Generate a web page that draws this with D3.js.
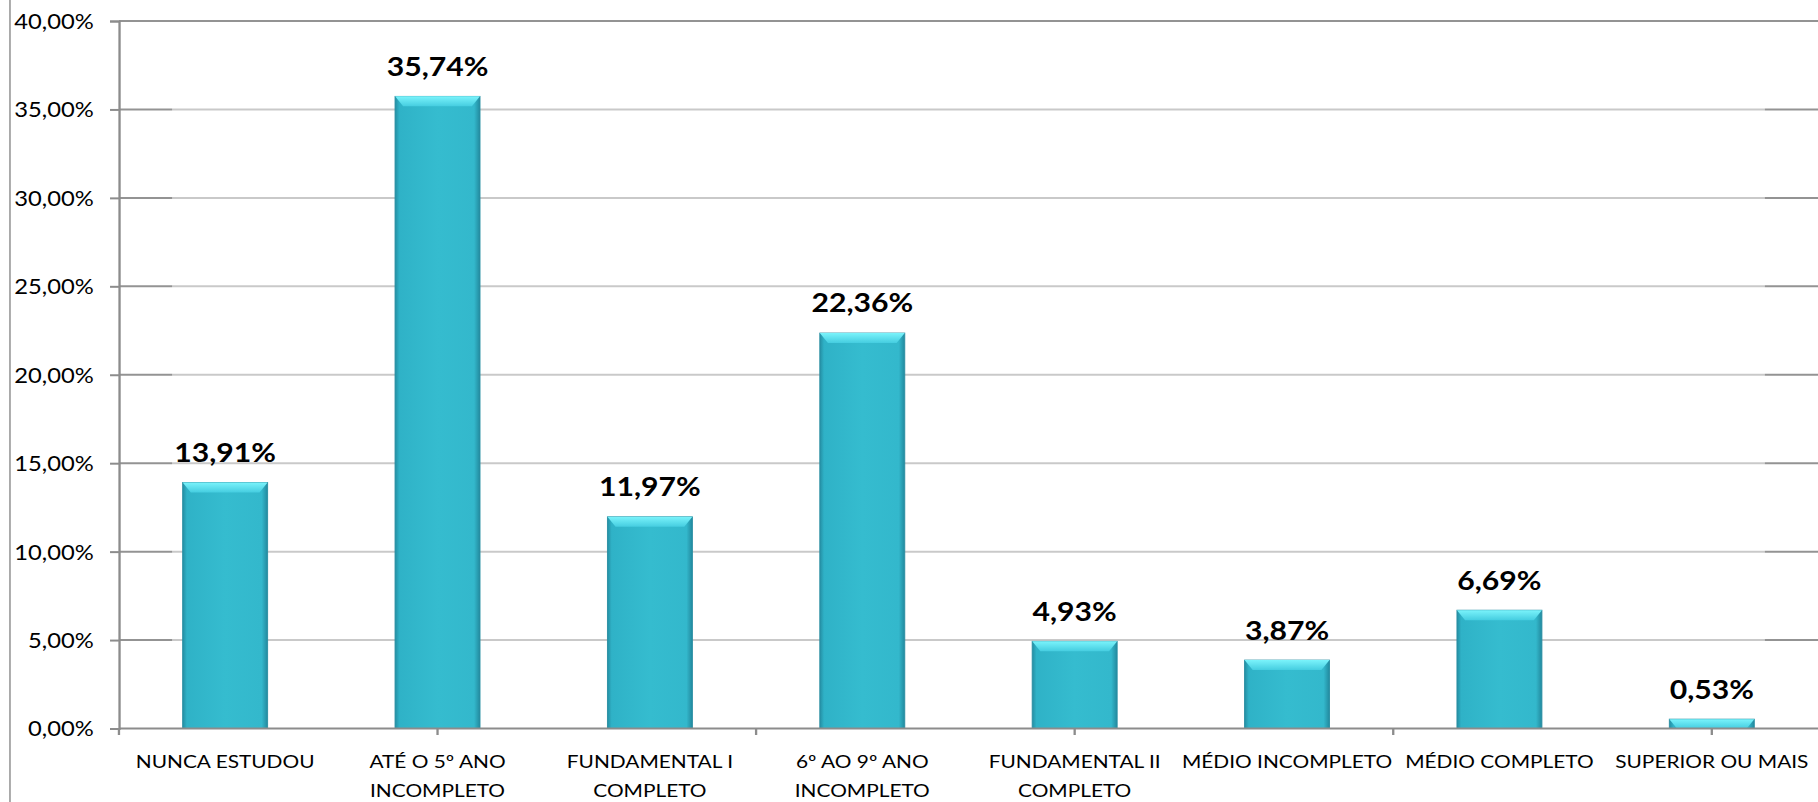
<!DOCTYPE html>
<html lang="pt">

<head>
    <meta charset="UTF-8">
    <title>Escolaridade</title>
    <style>
        body { margin: 0; background: #fff; }
        svg { display: block; }
        text { font-family: Lato, "Open Sans", sans-serif; fill: #000; }
    </style>
</head>

<body>

    <script src="https://d3js.org/d3.v7.min.js"></script>

    <script>

        // dados
        const categorias = [
            ['NUNCA ESTUDOU'],
            ['ATÉ O 5º ANO', 'INCOMPLETO'],
            ['FUNDAMENTAL I', 'COMPLETO'],
            ['6º AO 9º ANO', 'INCOMPLETO'],
            ['FUNDAMENTAL II', 'COMPLETO'],
            ['MÉDIO INCOMPLETO'],
            ['MÉDIO COMPLETO'],
            ['SUPERIOR OU MAIS']
        ];
        const valores = [13.91, 35.74, 11.97, 22.36, 4.93, 3.87, 6.69, 0.53];
        const yTicks = [0, 5, 10, 15, 20, 25, 30, 35, 40];

        // a figura original está esticada na horizontal: desenho em 1568 de largura e estico para 1818
        const outW = 1818, H = 802;
        const W = 1568;

        const margin = { top: 21, right: 0, bottom: 73.5, left: 102.6 };

        const svg = d3.select('body').append('svg')
            .attr('width', outW)
            .attr('height', H)
            .attr('viewBox', `0 0 ${W} ${H}`)
            .attr('preserveAspectRatio', 'none');

        const defs = svg.append('defs');

        const gBody = defs.append('linearGradient').attr('id', 'corpo')
            .attr('x1', 0).attr('x2', 1).attr('y1', 0).attr('y2', 0);
        gBody.append('stop').attr('offset', '0%').attr('stop-color', '#248ea3');
        gBody.append('stop').attr('offset', '5%').attr('stop-color', '#2fb2c7');
        gBody.append('stop').attr('offset', '50%').attr('stop-color', '#35bccf');
        gBody.append('stop').attr('offset', '93%').attr('stop-color', '#33b8cc');
        gBody.append('stop').attr('offset', '100%').attr('stop-color', '#22899e');

        const gTop = defs.append('linearGradient').attr('id', 'topo')
            .attr('x1', 0).attr('x2', 0).attr('y1', 0).attr('y2', 1);
        gTop.append('stop').attr('offset', '0%').attr('stop-color', '#7af3fb');
        gTop.append('stop').attr('offset', '100%').attr('stop-color', '#45cde0');

        const x = d3.scaleBand()
            .domain(d3.range(categorias.length))
            .range([margin.left, W - margin.right])
            .paddingInner(0.6)
            .paddingOuter(0.3);

        const y = d3.scaleLinear()
            .domain([0, 40])
            .range([H - margin.bottom, margin.top]);

        // borda esquerda da área do gráfico
        svg.append('line')
            .attr('x1', 8.6).attr('x2', 8.6)
            .attr('y1', 0).attr('y2', H)
            .attr('stroke', '#a6a6a6').attr('stroke-width', 1.6);

        // linhas de grade
        svg.append('g')
            .selectAll('line')
            .data(yTicks.filter(d => d > 0))
            .join('line')
            .attr('x1', margin.left)
            .attr('x2', W - margin.right)
            .attr('y1', d => y(d))
            .attr('y2', d => y(d))
            .attr('stroke', '#939393')
            .attr('stroke-width', 2);

        // brilho branco em volta das barras (clareia a grade)
        const step = x.step();
        svg.append('rect')
            .attr('x', x(0) - 0.05 * step)
            .attr('width', x(categorias.length - 1) + x.bandwidth() + 0.05 * step - (x(0) - 0.05 * step))
            .attr('y', y(d3.max(valores)) - 4)
            .attr('height', y(0) - y(d3.max(valores)) + 4)
            .attr('fill', '#fff')
            .attr('opacity', 0.5);

        // eixo y
        const yAxis = svg.append('g')
            .attr('transform', `translate(${margin.left},0)`)
            .call(d3.axisLeft(y)
                .tickValues(yTicks)
                .tickSize(7.7)
                .tickPadding(14)
                .tickFormat(d => d3.format('.2f')(d).replace('.', ',') + '%'));
        yAxis.select('.domain').attr('stroke', '#8c8c8c').attr('stroke-width', 2);
        yAxis.selectAll('.tick line').attr('stroke', '#8c8c8c').attr('stroke-width', 2);
        yAxis.selectAll('.tick text')
            .attr('font-size', 20.5)
            .attr('font-family', 'Lato')
            .attr('fill', '#000')
            .attr('dy', '0.36em');

        // barras
        const bars = svg.append('g')
            .selectAll('g')
            .data(valores)
            .join('g');

        bars.append('rect')
            .attr('x', (d, i) => x(i))
            .attr('y', d => y(d))
            .attr('width', x.bandwidth())
            .attr('height', d => y(0) - y(d))
            .attr('fill', 'url(#corpo)')
            .attr('stroke', '#2a8fa3')
            .attr('stroke-width', 0.8);

        bars.append('path')
            .attr('d', (d, i) => {
                const x0 = x(i), x1 = x(i) + x.bandwidth();
                const t = y(d);
                const h = Math.min(10, y(0) - t);
                const ins = Math.min(7, h * 0.7);
                return `M${x0},${t}L${x1},${t}L${x1 - ins},${t + h}L${x0 + ins},${t + h}Z`;
            })
            .attr('fill', 'url(#topo)');

        // eixo x
        svg.append('line')
            .attr('x1', margin.left).attr('x2', W - margin.right)
            .attr('y1', y(0)).attr('y2', y(0))
            .attr('stroke', '#8c8c8c').attr('stroke-width', 2);

        // marcas do eixo x (a cada 1,5 categoria, como no original)
        const marcas = d3.range(0, categorias.length + 0.01, 1.5);
        svg.append('g')
            .selectAll('line')
            .data(marcas)
            .join('line')
            .attr('x1', d => margin.left + d * step)
            .attr('x2', d => margin.left + d * step)
            .attr('y1', y(0))
            .attr('y2', y(0) + 6.5)
            .attr('stroke', '#8c8c8c')
            .attr('stroke-width', 2);

        // rótulos das categorias
        const rotulos = svg.append('g')
            .selectAll('text')
            .data(categorias)
            .join('text')
            .attr('x', (d, i) => x(i) + x.bandwidth() / 2)
            .attr('y', 767.7)
            .attr('text-anchor', 'middle')
            .attr('font-size', 18);

        rotulos.selectAll('tspan')
            .data(d => d)
            .join('tspan')
            .attr('x', function () { return d3.select(this.parentNode).attr('x'); })
            .attr('dy', (d, i) => i === 0 ? 0 : 29.3)
            .text(d => d);

        // rótulos de valor
        svg.append('g')
            .selectAll('text')
            .data(valores)
            .join('text')
            .attr('x', (d, i) => x(i) + x.bandwidth() / 2)
            .attr('y', d => y(d) - 20.5)
            .attr('text-anchor', 'middle')
            .attr('font-size', 26)
            .attr('font-weight', 'bold')
            .text(d => d3.format('.2f')(d).replace('.', ',') + '%');

    </script>
</body>

</html>
